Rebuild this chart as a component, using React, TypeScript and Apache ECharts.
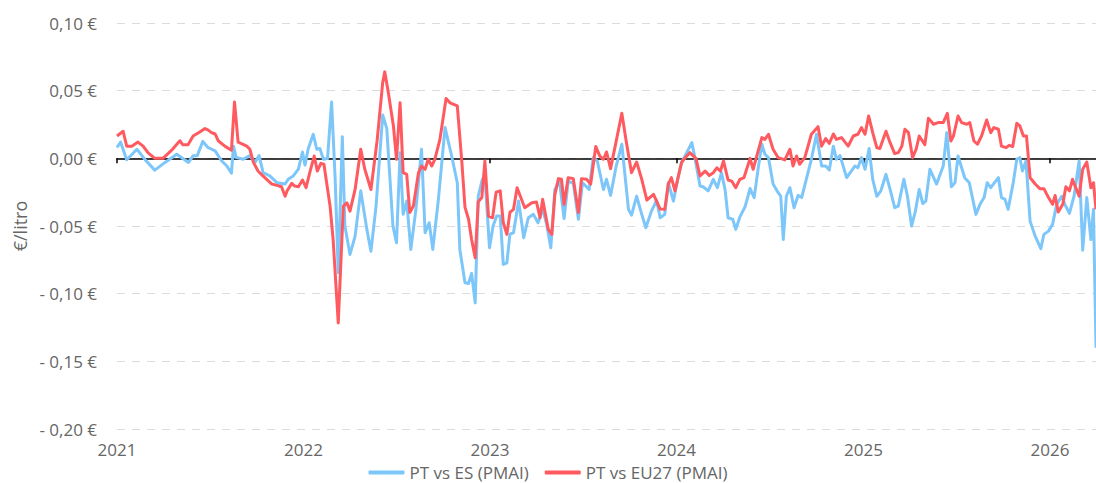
import React, { useEffect, useRef } from "react";
import * as echarts from "echarts";

// x values: days since 2021-01-01
const yearLabels = [2021, 2022, 2023, 2024, 2025, 2026];

const blueDays = [0,7,19,39,55,74,94,117,140,149,157,168,178,192,205,215,224,228,233,247,260,270,278,286,299,313,329,335,345,355,363,368,374,384,391,397,404,412,420,427,433,441,446,456,466,477,489,497,507,520,528,540,547,554,560,567,575,585,596,603,611,618,629,642,655,666,671,681,688,694,701,707,715,720,729,736,743,750,756,763,769,776,786,796,805,815,824,833,841,849,857,866,875,883,893,903,911,924,932,940,952,958,966,977,988,1001,1007,1017,1027,1035,1046,1056,1063,1072,1079,1089,1098,1105,1115,1125,1131,1141,1147,1157,1167,1175,1183,1190,1196,1205,1211,1219,1229,1239,1247,1255,1262,1268,1275,1284,1294,1299,1304,1310,1317,1325,1333,1340,1349,1359,1369,1379,1387,1394,1402,1408,1415,1428,1444,1450,1457,1464,1472,1479,1487,1495,1505,1513,1522,1529,1540,1547,1555,1562,1570,1577,1583,1591,1604,1617,1624,1633,1640,1646,1659,1668,1681,1689,1697,1703,1710,1725,1731,1738,1744,1754,1761,1767,1772,1779,1787,1797,1808,1814,1823,1831,1839,1849,1855,1864,1873,1883,1890,1898,1906,1911,1916];
const blueVals = [0.008,0.012,-0.001,0.0067,-0.001,-0.0087,-0.003,0.003,-0.003,0.002,0.002,0.0125,0.008,0.0055,-0.002,-0.0057,-0.011,0.009,0.0007,-0.0007,0.002,-0.003,0.002,-0.0106,-0.013,-0.018,-0.019,-0.0155,-0.013,-0.008,0.0047,-0.005,0.0067,0.0178,0.0067,0.0072,-0.0007,-0.0002,0.0417,-0.0155,-0.0846,0.016,-0.05,-0.071,-0.0575,-0.024,-0.0525,-0.0686,-0.0353,0.032,0.022,-0.05,-0.0624,0.0042,-0.0414,-0.0316,-0.0673,-0.0377,0.0067,-0.055,-0.0476,-0.0673,-0.0303,0.0227,0.0017,-0.018,-0.0673,-0.092,-0.0925,-0.085,-0.1068,-0.028,-0.0155,-0.013,-0.066,-0.05,-0.0427,-0.0427,-0.0784,-0.0772,-0.056,-0.055,-0.0316,-0.0587,-0.0439,-0.0414,-0.0476,-0.0377,-0.0488,-0.066,-0.023,-0.0168,-0.0445,-0.0168,-0.0185,-0.045,-0.018,-0.023,0.0005,-0.002,-0.023,-0.0155,-0.0274,-0.0057,0.0104,-0.0377,-0.042,-0.028,-0.0414,-0.0513,-0.039,-0.031,-0.0439,-0.0414,-0.018,-0.0316,-0.0143,-0.003,0.0042,0.0116,0.0005,-0.0205,-0.021,-0.024,-0.0155,-0.0217,-0.0106,-0.023,-0.0439,-0.045,-0.0525,-0.0433,-0.036,-0.0223,-0.029,-0.007,0.0104,0.003,0.0005,-0.019,-0.0254,-0.028,-0.06,-0.028,-0.0217,-0.0365,-0.0274,-0.029,-0.0155,-0.0007,0.0178,-0.0057,-0.0057,-0.0087,0.009,-0.0007,0.002,-0.0143,-0.0057,-0.007,0.0005,-0.0081,0.0072,-0.0155,-0.028,-0.024,-0.0118,-0.023,-0.0365,-0.0353,-0.0155,-0.028,-0.05,-0.04,-0.023,-0.0334,-0.0316,-0.0081,-0.019,-0.0057,0.019,-0.021,-0.018,0.0017,-0.0143,-0.018,-0.0414,-0.034,-0.029,-0.018,-0.0217,-0.0143,-0.029,-0.0303,-0.0377,-0.018,-0.0007,0.0005,-0.0094,-0.002,-0.0464,-0.0575,-0.0668,-0.0562,-0.0538,-0.0488,-0.034,-0.028,-0.034,-0.0407,-0.028,-0.002,-0.0679,-0.029,-0.06,-0.0377,-0.14];

const redDays = [0,12,19,29,41,51,61,74,90,107,123,129,139,149,162,172,178,185,192,198,211,224,230,237,254,260,267,276,283,293,303,313,322,329,333,342,348,355,363,370,378,386,392,399,405,417,423,433,443,450,456,466,477,485,497,509,520,524,531,541,547,554,560,567,573,580,590,596,603,609,616,622,632,644,652,666,675,681,688,694,701,707,714,720,727,735,742,750,756,763,769,776,783,798,812,821,828,833,844,851,857,864,870,875,883,893,903,909,919,927,937,945,952,958,966,975,988,997,1007,1017,1027,1037,1050,1063,1072,1079,1085,1092,1105,1112,1121,1133,1141,1151,1159,1167,1174,1181,1187,1196,1203,1211,1219,1227,1239,1245,1252,1262,1268,1275,1284,1294,1307,1317,1323,1330,1336,1346,1359,1372,1379,1387,1394,1402,1408,1418,1431,1441,1450,1457,1464,1471,1479,1487,1493,1505,1513,1522,1529,1536,1542,1549,1557,1564,1570,1581,1588,1598,1607,1617,1625,1632,1637,1646,1653,1663,1669,1677,1684,1692,1702,1710,1716,1725,1731,1740,1746,1753,1761,1767,1774,1780,1787,1797,1806,1814,1823,1831,1836,1842,1851,1857,1864,1870,1877,1883,1890,1898,1906,1911,1916];
const redVals = [0.0165,0.02,0.009,0.009,0.012,0.009,0.004,0,0,0.006,0.013,0.01,0.01,0.0165,0.0195,0.022,0.021,0.019,0.018,0.013,0.009,0.006,0.0417,0.012,0.009,0.0067,-0.003,-0.0094,-0.012,-0.0155,-0.019,-0.02,-0.021,-0.028,-0.024,-0.0185,-0.0205,-0.021,-0.016,-0.0217,-0.0094,0.0017,-0.0094,-0.0037,-0.0044,-0.0353,-0.06,-0.1216,-0.0353,-0.0328,-0.039,-0.023,0.0067,-0.0081,-0.023,0.0128,0.056,0.0639,0.0486,0.0239,-0.0007,0.041,-0.0106,-0.0118,-0.04,-0.0353,-0.0106,-0.0057,-0.0081,-0.0007,-0.0057,-0.0007,0.014,0.0442,0.041,0.0387,-0.0032,-0.036,-0.045,-0.06,-0.0735,-0.032,-0.029,-0.002,-0.0427,-0.0439,-0.025,-0.024,-0.0476,-0.0562,-0.04,-0.0377,-0.0217,-0.0365,-0.0328,-0.0323,-0.0439,-0.0303,-0.0525,-0.0562,-0.0266,-0.015,-0.0155,-0.034,-0.0143,-0.015,-0.04,-0.015,-0.0155,-0.019,0.0087,0.0017,-0.0007,0.0047,-0.0076,0.009,0.0333,0.0116,-0.0106,-0.0027,-0.0155,-0.0308,-0.0266,-0.0375,-0.0377,-0.019,-0.0143,-0.024,-0.003,0.0005,0.0042,0,-0.013,-0.0094,-0.0126,-0.0106,-0.007,-0.0094,-0.002,-0.016,-0.0168,-0.0217,-0.0155,-0.0143,0,-0.0081,0.0017,0.0153,0.014,0.0178,0.0067,0.0005,-0.0012,0.0067,-0.0057,0.0017,-0.0044,0.0005,0.0178,0.0234,0.009,0.0146,0.011,0.018,0.014,0.0153,0.009,0.0165,0.0178,0.0227,0.0178,0.0313,0.019,0.0079,0.0072,0.02,0.0116,0.0035,0.0042,0.009,0.0215,0.019,0.0005,0.0067,0.0165,0.01,0.0297,0.0252,0.0264,0.0264,0.0333,0.0128,0.0165,0.0313,0.0264,0.0252,0.0264,0.0128,0.0104,0.0165,0.0283,0.019,0.0227,0.0215,0.009,0.0079,0.0096,0.0087,0.0259,0.0239,0.0165,0.0165,-0.0143,-0.019,-0.0224,-0.0224,-0.029,-0.034,-0.0274,-0.0397,-0.034,-0.021,-0.024,-0.0155,-0.0224,-0.028,-0.0081,-0.0027,-0.0217,-0.018,-0.0377];

const DAY = 86400000;
const base = Date.UTC(2021, 0, 1);
const yearTicks = yearLabels.map((y) => Math.round((Date.UTC(y, 0, 1) - base) / DAY));
const lastDay = Math.max(blueDays[blueDays.length - 1], redDays[redDays.length - 1]);

const fmtEuro = (v: number) => {
  const r = Math.round(v * 100) / 100;
  const s = Math.abs(r).toFixed(2).replace(".", ",") + " €";
  return r < 0 ? "- " + s : s;
};

export default function App() {
  const ref = useRef<HTMLDivElement>(null);
  useEffect(() => {
    if (!ref.current) return;
    const chart = echarts.init(ref.current, null, { renderer: "svg" });
    const font = "'Open Sans', 'Noto Sans', sans-serif";
    const yearFmt = (v: number) => {
      const i = yearTicks.indexOf(Math.round(v));
      return i >= 0 ? String(yearLabels[i]) : "";
    };
    chart.setOption({
      animation: false,
      textStyle: { fontFamily: font },
      grid: { left: 117, right: 0, top: 23, bottom: 54, containLabel: false },
      legend: {
        top: 463,
        left: "center",
        icon: "roundRect",
        itemWidth: 36,
        itemHeight: 4,
        itemGap: 16,
        padding: 0,
        textStyle: { color: "#666", fontSize: 17, fontFamily: font, lineHeight: 19 },
        data: ["PT vs ES (PMAI)", "PT vs EU27 (PMAI)"],
      },
      xAxis: [
        {
          type: "value",
          position: "bottom",
          min: 0,
          max: lastDay,
          axisLine: { show: false, onZero: false },
          axisTick: { show: false },
          splitLine: { show: false },
          axisLabel: {
            customValues: yearTicks,
            formatter: yearFmt,
            color: "#666",
            fontSize: 17,
            lineHeight: 19,
            fontFamily: font,
            margin: 11,
            hideOverlap: false,
          },
        },
        {
          type: "value",
          position: "top",
          min: 0,
          max: lastDay,
          axisLine: { show: true, onZero: true, lineStyle: { color: "#000", width: 1.5 } },
          axisTick: { show: true, customValues: yearTicks, inside: true, length: 5, lineStyle: { color: "#000", width: 1.5 } },
          axisLabel: { show: false },
          splitLine: { show: false },
        },
      ],
      yAxis: {
        type: "value",
        min: -0.2,
        max: 0.1,
        interval: 0.05,
        name: "€/litro",
        nameLocation: "middle",
        nameGap: 80,
        nameRotate: 90,
        nameTextStyle: { color: "#666", fontSize: 18, fontFamily: font },
        axisLine: { show: false },
        axisTick: { show: false },
        axisLabel: { formatter: fmtEuro, color: "#666", fontSize: 17, fontFamily: font, margin: 20 },
        splitLine: { show: true, lineStyle: { color: "#dcdcdc", type: [8, 7], width: 1.2 } },
      },
      series: [
        {
          name: "PT vs ES (PMAI)",
          type: "line",
          xAxisIndex: 0,
          showSymbol: false,
          symbol: "none",
          data: blueDays.map((d, i) => [d, blueVals[i]]),
          lineStyle: { color: "#7DC6F9", width: 3, join: "round" },
          itemStyle: { color: "#7DC6F9" },
        },
        {
          name: "PT vs EU27 (PMAI)",
          type: "line",
          xAxisIndex: 0,
          showSymbol: false,
          symbol: "none",
          data: redDays.map((d, i) => [d, redVals[i]]),
          lineStyle: { color: "#FF5A5F", width: 3, join: "round" },
          itemStyle: { color: "#FF5A5F" },
        },
      ],
    });
    return () => chart.dispose();
  }, []);
  return (
    <div
      ref={ref}
      style={{ position: "fixed", left: 0, top: 0, width: 1096, height: 483, background: "#fff" }}
    />
  );
}
